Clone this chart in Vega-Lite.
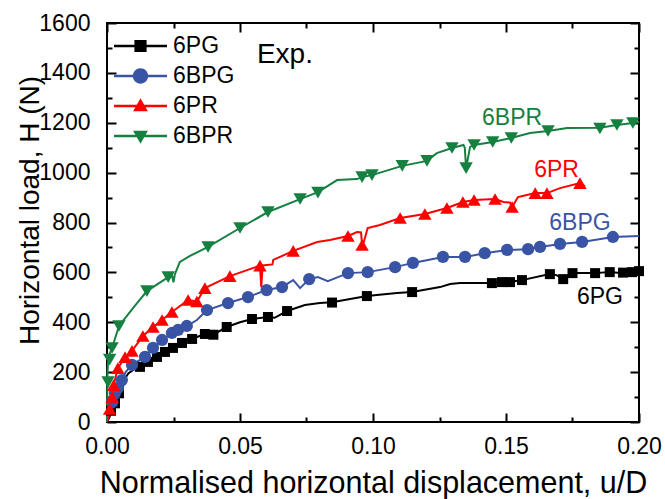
{
  "$schema": "https://vega.github.io/schema/vega-lite/v6.json",
  "width": 532,
  "height": 399,
  "autosize": {"type": "none"},
  "padding": {"left": 107, "top": 23, "right": 26, "bottom": 77},
  "background": "white",
  "config": {
    "font": "Liberation Sans",
    "view": {"stroke": "black", "strokeWidth": 2},
    "axis": {"grid": false}
  },
  "datasets": {
    "lines": [
      {"s":"6PG","u":0,"H":0},{"s":"6PG","u":0.001,"H":20},{"s":"6PG","u":0.0015,"H":45},{"s":"6PG","u":0.0023,"H":60},{"s":"6PG","u":0.003,"H":75},{"s":"6PG","u":0.0034,"H":88},{"s":"6PG","u":0.004,"H":100},{"s":"6PG","u":0.0045,"H":120},{"s":"6PG","u":0.006,"H":140},{"s":"6PG","u":0.0065,"H":170},{"s":"6PG","u":0.008,"H":195},{"s":"6PG","u":0.01,"H":210},{"s":"6PG","u":0.0124,"H":221},{"s":"6PG","u":0.0154,"H":241},{"s":"6PG","u":0.0188,"H":261},{"s":"6PG","u":0.0218,"H":281},{"s":"6PG","u":0.0248,"H":297},{"s":"6PG","u":0.0282,"H":317},{"s":"6PG","u":0.0312,"H":330},{"s":"6PG","u":0.0338,"H":341},{"s":"6PG","u":0.0368,"H":353},{"s":"6PG","u":0.04,"H":350},{"s":"6PG","u":0.045,"H":381},{"s":"6PG","u":0.05,"H":400},{"s":"6PG","u":0.0545,"H":413},{"s":"6PG","u":0.0605,"H":421},{"s":"6PG","u":0.063,"H":418},{"s":"6PG","u":0.0677,"H":445},{"s":"6PG","u":0.0744,"H":469},{"s":"6PG","u":0.08,"H":477},{"s":"6PG","u":0.0846,"H":480},{"s":"6PG","u":0.0977,"H":505},{"s":"6PG","u":0.109,"H":517},{"s":"6PG","u":0.1147,"H":521},{"s":"6PG","u":0.1252,"H":541},{"s":"6PG","u":0.129,"H":553},{"s":"6PG","u":0.1327,"H":557},{"s":"6PG","u":0.1447,"H":557},{"s":"6PG","u":0.1485,"H":561},{"s":"6PG","u":0.1515,"H":561},{"s":"6PG","u":0.156,"H":569},{"s":"6PG","u":0.1665,"H":593},{"s":"6PG","u":0.169,"H":589},{"s":"6PG","u":0.1715,"H":573},{"s":"6PG","u":0.175,"H":597},{"s":"6PG","u":0.1835,"H":597},{"s":"6PG","u":0.189,"H":601},{"s":"6PG","u":0.194,"H":597},{"s":"6PG","u":0.1974,"H":601},{"s":"6PG","u":0.2,"H":605},
      {"s":"6BPG","u":0,"H":0},{"s":"6BPG","u":0.001,"H":40},{"s":"6BPG","u":0.002,"H":80},{"s":"6BPG","u":0.003,"H":116},{"s":"6BPG","u":0.0041,"H":136},{"s":"6BPG","u":0.0056,"H":168},{"s":"6BPG","u":0.007,"H":200},{"s":"6BPG","u":0.0094,"H":229},{"s":"6BPG","u":0.0143,"H":261},{"s":"6BPG","u":0.0173,"H":297},{"s":"6BPG","u":0.0207,"H":329},{"s":"6BPG","u":0.0244,"H":357},{"s":"6BPG","u":0.0267,"H":369},{"s":"6BPG","u":0.03,"H":385},{"s":"6BPG","u":0.0338,"H":409},{"s":"6BPG","u":0.0376,"H":449},{"s":"6BPG","u":0.0455,"H":477},{"s":"6BPG","u":0.053,"H":501},{"s":"6BPG","u":0.06,"H":529},{"s":"6BPG","u":0.0658,"H":541},{"s":"6BPG","u":0.07,"H":569},{"s":"6BPG","u":0.0726,"H":537},{"s":"6BPG","u":0.076,"H":573},{"s":"6BPG","u":0.0793,"H":581},{"s":"6BPG","u":0.083,"H":565},{"s":"6BPG","u":0.0906,"H":597},{"s":"6BPG","u":0.098,"H":601},{"s":"6BPG","u":0.1083,"H":621},{"s":"6BPG","u":0.115,"H":638},{"s":"6BPG","u":0.1263,"H":662},{"s":"6BPG","u":0.1346,"H":662},{"s":"6BPG","u":0.142,"H":677},{"s":"6BPG","u":0.1504,"H":690},{"s":"6BPG","u":0.1583,"H":693},{"s":"6BPG","u":0.1628,"H":702},{"s":"6BPG","u":0.1703,"H":714},{"s":"6BPG","u":0.1786,"H":722},{"s":"6BPG","u":0.1902,"H":742},{"s":"6BPG","u":0.2,"H":746},
      {"s":"6PR","u":0,"H":0},{"s":"6PR","u":0.0005,"H":20},{"s":"6PR","u":0.001,"H":52},{"s":"6PR","u":0.0019,"H":100},{"s":"6PR","u":0.0025,"H":148},{"s":"6PR","u":0.0041,"H":216},{"s":"6PR","u":0.0068,"H":260},{"s":"6PR","u":0.0094,"H":285},{"s":"6PR","u":0.0135,"H":345},{"s":"6PR","u":0.0173,"H":381},{"s":"6PR","u":0.0207,"H":409},{"s":"6PR","u":0.0244,"H":441},{"s":"6PR","u":0.0305,"H":489},{"s":"6PR","u":0.0338,"H":483},{"s":"6PR","u":0.0368,"H":537},{"s":"6PR","u":0.0462,"H":585},{"s":"6PR","u":0.0575,"H":627},{"s":"6PR","u":0.058,"H":541},{"s":"6PR","u":0.0585,"H":628},{"s":"6PR","u":0.0622,"H":632},{"s":"6PR","u":0.0625,"H":650},{"s":"6PR","u":0.07,"H":686},{"s":"6PR","u":0.079,"H":722},{"s":"6PR","u":0.0838,"H":730},{"s":"6PR","u":0.0906,"H":746},{"s":"6PR","u":0.094,"H":762},{"s":"6PR","u":0.0955,"H":760},{"s":"6PR","u":0.0959,"H":710},{"s":"6PR","u":0.0965,"H":720},{"s":"6PR","u":0.098,"H":778},{"s":"6PR","u":0.1026,"H":790},{"s":"6PR","u":0.1102,"H":818},{"s":"6PR","u":0.1195,"H":834},{"s":"6PR","u":0.1278,"H":858},{"s":"6PR","u":0.1338,"H":882},{"s":"6PR","u":0.138,"H":890},{"s":"6PR","u":0.1459,"H":894},{"s":"6PR","u":0.149,"H":882},{"s":"6PR","u":0.1515,"H":880},{"s":"6PR","u":0.1523,"H":862},{"s":"6PR","u":0.1545,"H":902},{"s":"6PR","u":0.161,"H":918},{"s":"6PR","u":0.1654,"H":918},{"s":"6PR","u":0.1703,"H":938},{"s":"6PR","u":0.1778,"H":958},{"s":"6PR","u":0.1797,"H":945},
      {"s":"6BPR","u":0,"H":0},{"s":"6BPR","u":0.0002,"H":200},{"s":"6BPR","u":0.0005,"H":260},{"s":"6BPR","u":0.0019,"H":297},{"s":"6BPR","u":0.0045,"H":385},{"s":"6BPR","u":0.01,"H":460},{"s":"6BPR","u":0.015,"H":525},{"s":"6BPR","u":0.023,"H":581},{"s":"6BPR","u":0.0245,"H":585},{"s":"6BPR","u":0.025,"H":560},{"s":"6BPR","u":0.0255,"H":592},{"s":"6BPR","u":0.0274,"H":642},{"s":"6BPR","u":0.0312,"H":666},{"s":"6BPR","u":0.038,"H":702},{"s":"6BPR","u":0.05,"H":778},{"s":"6BPR","u":0.0605,"H":842},{"s":"6BPR","u":0.0726,"H":894},{"s":"6BPR","u":0.0793,"H":922},{"s":"6BPR","u":0.0865,"H":970},{"s":"6BPR","u":0.094,"H":974},{"s":"6BPR","u":0.0959,"H":982},{"s":"6BPR","u":0.0996,"H":990},{"s":"6BPR","u":0.111,"H":1027},{"s":"6BPR","u":0.1203,"H":1047},{"s":"6BPR","u":0.124,"H":1078},{"s":"6BPR","u":0.1297,"H":1099},{"s":"6BPR","u":0.134,"H":1111},{"s":"6BPR","u":0.1345,"H":1100},{"s":"6BPR","u":0.135,"H":1018},{"s":"6BPR","u":0.1365,"H":1103},{"s":"6BPR","u":0.138,"H":1111},{"s":"6BPR","u":0.145,"H":1123},{"s":"6BPR","u":0.152,"H":1139},{"s":"6BPR","u":0.159,"H":1159},{"s":"6BPR","u":0.1658,"H":1167},{"s":"6BPR","u":0.173,"H":1179},{"s":"6BPR","u":0.1853,"H":1180},{"s":"6BPR","u":0.1917,"H":1191},{"s":"6BPR","u":0.1977,"H":1199},{"s":"6BPR","u":0.2,"H":1203}
    ],
    "markers": [
      {"s":"6PG","u":0.0015,"H":45},{"s":"6PG","u":0.003,"H":75},{"s":"6PG","u":0.0045,"H":115},{"s":"6PG","u":0.0124,"H":221},{"s":"6PG","u":0.0154,"H":241},{"s":"6PG","u":0.0188,"H":261},{"s":"6PG","u":0.0218,"H":281},{"s":"6PG","u":0.0248,"H":297},{"s":"6PG","u":0.0282,"H":317},{"s":"6PG","u":0.032,"H":333},{"s":"6PG","u":0.0368,"H":353},{"s":"6PG","u":0.04,"H":350},{"s":"6PG","u":0.045,"H":381},{"s":"6PG","u":0.0545,"H":413},{"s":"6PG","u":0.0605,"H":421},{"s":"6PG","u":0.0677,"H":445},{"s":"6PG","u":0.0846,"H":479},{"s":"6PG","u":0.0977,"H":505},{"s":"6PG","u":0.1147,"H":521},{"s":"6PG","u":0.1447,"H":557},{"s":"6PG","u":0.1485,"H":561},{"s":"6PG","u":0.1515,"H":561},{"s":"6PG","u":0.156,"H":569},{"s":"6PG","u":0.1665,"H":593},{"s":"6PG","u":0.1715,"H":573},{"s":"6PG","u":0.175,"H":597},{"s":"6PG","u":0.1835,"H":597},{"s":"6PG","u":0.189,"H":601},{"s":"6PG","u":0.194,"H":599},{"s":"6PG","u":0.1974,"H":601},{"s":"6PG","u":0.2,"H":605},
      {"s":"6BPG","u":0.002,"H":80},{"s":"6BPG","u":0.003,"H":116},{"s":"6BPG","u":0.0041,"H":136},{"s":"6BPG","u":0.0056,"H":168},{"s":"6BPG","u":0.0094,"H":229},{"s":"6BPG","u":0.0143,"H":261},{"s":"6BPG","u":0.0173,"H":297},{"s":"6BPG","u":0.0207,"H":329},{"s":"6BPG","u":0.0244,"H":357},{"s":"6BPG","u":0.0267,"H":369},{"s":"6BPG","u":0.03,"H":385},{"s":"6BPG","u":0.0376,"H":449},{"s":"6BPG","u":0.0455,"H":477},{"s":"6BPG","u":0.053,"H":501},{"s":"6BPG","u":0.06,"H":529},{"s":"6BPG","u":0.0658,"H":541},{"s":"6BPG","u":0.076,"H":573},{"s":"6BPG","u":0.0906,"H":597},{"s":"6BPG","u":0.098,"H":601},{"s":"6BPG","u":0.1083,"H":621},{"s":"6BPG","u":0.115,"H":638},{"s":"6BPG","u":0.1263,"H":662},{"s":"6BPG","u":0.1346,"H":662},{"s":"6BPG","u":0.142,"H":677},{"s":"6BPG","u":0.1504,"H":690},{"s":"6BPG","u":0.1583,"H":693},{"s":"6BPG","u":0.1628,"H":702},{"s":"6BPG","u":0.1703,"H":714},{"s":"6BPG","u":0.1786,"H":722},{"s":"6BPG","u":0.1902,"H":742},
      {"s":"6PR","u":0.001,"H":52},{"s":"6PR","u":0.0019,"H":100},{"s":"6PR","u":0.0025,"H":148},{"s":"6PR","u":0.0041,"H":216},{"s":"6PR","u":0.0068,"H":260},{"s":"6PR","u":0.0094,"H":285},{"s":"6PR","u":0.0135,"H":345},{"s":"6PR","u":0.0173,"H":381},{"s":"6PR","u":0.0207,"H":409},{"s":"6PR","u":0.0244,"H":441},{"s":"6PR","u":0.0305,"H":489},{"s":"6PR","u":0.0338,"H":483},{"s":"6PR","u":0.0368,"H":537},{"s":"6PR","u":0.0462,"H":585},{"s":"6PR","u":0.0575,"H":627},{"s":"6PR","u":0.07,"H":686},{"s":"6PR","u":0.0906,"H":746},{"s":"6PR","u":0.0959,"H":710},{"s":"6PR","u":0.1102,"H":818},{"s":"6PR","u":0.1195,"H":834},{"s":"6PR","u":0.1278,"H":858},{"s":"6PR","u":0.1338,"H":882},{"s":"6PR","u":0.138,"H":890},{"s":"6PR","u":0.1459,"H":894},{"s":"6PR","u":0.1523,"H":862},{"s":"6PR","u":0.161,"H":918},{"s":"6PR","u":0.1654,"H":918},{"s":"6PR","u":0.1778,"H":958},
      {"s":"6BPR","u":0.0004,"H":160},{"s":"6BPR","u":0.001,"H":250},{"s":"6BPR","u":0.0019,"H":297},{"s":"6BPR","u":0.0045,"H":385},{"s":"6BPR","u":0.015,"H":525},{"s":"6BPR","u":0.023,"H":581},{"s":"6BPR","u":0.038,"H":702},{"s":"6BPR","u":0.05,"H":778},{"s":"6BPR","u":0.0605,"H":842},{"s":"6BPR","u":0.0726,"H":894},{"s":"6BPR","u":0.0793,"H":920},{"s":"6BPR","u":0.0959,"H":982},{"s":"6BPR","u":0.0996,"H":990},{"s":"6BPR","u":0.111,"H":1027},{"s":"6BPR","u":0.1203,"H":1047},{"s":"6BPR","u":0.1297,"H":1099},{"s":"6BPR","u":0.135,"H":1018},{"s":"6BPR","u":0.138,"H":1111},{"s":"6BPR","u":0.145,"H":1123},{"s":"6BPR","u":0.152,"H":1139},{"s":"6BPR","u":0.1658,"H":1167},{"s":"6BPR","u":0.1853,"H":1177},{"s":"6BPR","u":0.1917,"H":1191},{"s":"6BPR","u":0.1977,"H":1199}
    ],
    "labels": [
      {"s":"6BPR","u":0.1523,"H":1219},
      {"s":"6PR","u":0.169,"H":1010},
      {"s":"6BPG","u":0.1778,"H":798},
      {"s":"6PG","u":0.1853,"H":501}
    ],
    "notes": [{"t":"Exp.","u":0.0669,"H":1472}]
  },
  "encoding": {
    "x": {"field": "u", "type": "quantitative", "scale": {"domain": [0, 0.2], "nice": false, "zero": false}, "axis": null},
    "y": {"field": "H", "type": "quantitative", "scale": {"domain": [0, 1600], "nice": false, "zero": false}, "axis": null}
  },
  "resolve": {"axis": {"x": "independent", "y": "independent"}},
  "layer": [
    {
      "data": {"name": "lines"},
      "mark": {"type": "line", "strokeWidth": 2},
      "encoding": {
        "x": {"field": "u", "type": "quantitative", "scale": {"domain": [0, 0.2], "nice": false, "zero": false},
          "axis": {"orient": "bottom", "values": [0,0.025,0.05,0.075,0.1,0.125,0.15,0.175,0.2],
            "labelExpr": "round(datum.value*40)%2==0 ? format(datum.value,'.2f') : ''",
            "labelFlush": false, "labelOverlap": false, "labelFontSize": 23, "labelColor": "black", "labelPadding": 22,
            "tickSize": {"condition": {"test": "round(datum.value*40)%2==0", "value": -9}, "value": -5},
            "tickWidth": 2, "tickColor": "black", "domain": false,
            "title": "Normalised horizontal displacement, u/D", "titleFontSize": 30.5, "titleFontWeight": "normal", "titleColor": "black", "titlePadding": 6}},
        "y": {"field": "H", "type": "quantitative", "scale": {"domain": [0, 1600], "nice": false, "zero": false},
          "axis": {"orient": "left", "values": [0,100,200,300,400,500,600,700,800,900,1000,1100,1200,1300,1400,1500,1600],
            "labelExpr": "datum.value%200==0 ? format(datum.value,'d') : ''",
            "labelFlush": false, "labelOverlap": false, "labelFontSize": 23, "labelColor": "black", "labelPadding": 26,
            "tickSize": {"condition": {"test": "datum.value%200==0", "value": -9}, "value": -5},
            "tickWidth": 2, "tickColor": "black", "domain": false,
            "title": "Horizontal load, H (N)", "titleFontSize": 28, "titleFontWeight": "normal", "titleColor": "black", "titlePadding": -6, "titleY": 187}},
        "stroke": {"field": "s", "type": "nominal", "scale": {"domain": ["6BPR","6PR","6BPG","6PG"], "range": ["#168040","#ff0000","#3954a4","#000000"]}, "legend": null},
        "order": {"value": null}
      }
    },
    {
      "data": {"name": "markers"},
      "transform": [{"filter": "datum.s == '6PG'"}],
      "mark": {"type": "point", "shape": "square", "filled": true, "size": 100, "opacity": 1, "strokeWidth": 0},
      "encoding": {"fill": {"field": "s", "type": "nominal", "scale": {"domain": ["6BPR","6PR","6BPG","6PG"], "range": ["#168040","#ff0000","#3954a4","#000000"]}, "legend": null}}
    },
    {
      "data": {"name": "markers"},
      "transform": [{"filter": "datum.s == '6BPG'"}],
      "mark": {"type": "point", "shape": "circle", "filled": true, "size": 150, "opacity": 1, "strokeWidth": 0},
      "encoding": {"fill": {"field": "s", "type": "nominal", "scale": {"domain": ["6BPR","6PR","6BPG","6PG"], "range": ["#168040","#ff0000","#3954a4","#000000"]}, "legend": null}}
    },
    {
      "data": {"name": "markers"},
      "transform": [{"filter": "datum.s == '6PR'"}],
      "mark": {"type": "point", "shape": "triangle-up", "filled": true, "size": 180, "opacity": 1, "strokeWidth": 0},
      "encoding": {"fill": {"field": "s", "type": "nominal", "scale": {"domain": ["6BPR","6PR","6BPG","6PG"], "range": ["#168040","#ff0000","#3954a4","#000000"]}, "legend": null}}
    },
    {
      "data": {"name": "markers"},
      "transform": [{"filter": "datum.s == '6BPR'"}],
      "mark": {"type": "point", "shape": "triangle-down", "filled": true, "size": 180, "opacity": 1, "strokeWidth": 0},
      "encoding": {"fill": {"field": "s", "type": "nominal", "scale": {"domain": ["6BPR","6PR","6BPG","6PG"], "range": ["#168040","#ff0000","#3954a4","#000000"]}, "legend": null}}
    },
    {
      "data": {"name": "markers"},
      "transform": [{"filter": "false"}],
      "mark": {"type": "point", "filled": true, "opacity": 1},
      "encoding": {
        "color": {"field": "s", "type": "nominal",
          "scale": {"domain": ["6PG","6BPG","6PR","6BPR"], "range": ["#000000","#3954a4","#ff0000","#168040"]},
          "legend": {"orient": "none", "legendX": 7, "legendY": 12, "title": null, "padding": 0, "symbolSize": 2809, "symbolStrokeWidth": 0, "labelFontSize": 23, "labelColor": "black", "labelOffset": 6, "rowPadding": 7, "clipHeight": 22}},
        "shape": {"field": "s", "type": "nominal",
          "scale": {"domain": ["6PG","6BPG","6PR","6BPR"], "range": [
            "M-1,-0.045H1V0.045H-1Z M-0.23,-0.23H0.23V0.23H-0.23Z",
            "M-1,-0.045H1V0.045H-1Z M-0.29,0A0.29,0.29 0 1,1 0.29,0A0.29,0.29 0 1,1 -0.29,0Z",
            "M-1,-0.045H1V0.045H-1Z M0,-0.29L0.28,0.2L-0.28,0.2Z",
            "M-1,-0.045H1V0.045H-1Z M-0.28,-0.2L0.28,-0.2L0,0.29Z"]},
          "legend": {"orient": "none", "legendX": 7, "legendY": 12, "title": null, "padding": 0, "symbolSize": 2809, "symbolStrokeWidth": 0, "labelFontSize": 23, "labelColor": "black", "labelOffset": 6, "rowPadding": 7, "clipHeight": 22}}
      }
    },
    {
      "data": {"name": "labels"},
      "mark": {"type": "text", "fontSize": 23, "align": "center", "baseline": "middle"},
      "encoding": {
        "text": {"field": "s", "type": "nominal"},
        "fill": {"field": "s", "type": "nominal", "scale": {"domain": ["6BPR","6PR","6BPG","6PG"], "range": ["#168040","#ff0000","#3954a4","#000000"]}, "legend": null}
      }
    },
    {
      "data": {"name": "notes"},
      "mark": {"type": "text", "fontSize": 28, "align": "center", "baseline": "middle", "color": "black"},
      "encoding": {
        "text": {"field": "t", "type": "nominal"},
        "x": {"field": "u", "type": "quantitative", "scale": {"domain": [0, 0.2], "nice": false, "zero": false},
          "axis": {"orient": "top", "values": [0,0.025,0.05,0.075,0.1,0.125,0.15,0.175,0.2], "labels": false, "title": null, "domain": false,
            "tickSize": {"condition": {"test": "round(datum.value*40)%2==0", "value": -9}, "value": -5}, "tickWidth": 2, "tickColor": "black"}},
        "y": {"field": "H", "type": "quantitative", "scale": {"domain": [0, 1600], "nice": false, "zero": false},
          "axis": {"orient": "right", "values": [0,100,200,300,400,500,600,700,800,900,1000,1100,1200,1300,1400,1500,1600], "labels": false, "title": null, "domain": false,
            "tickSize": {"condition": {"test": "datum.value%200==0", "value": -9}, "value": -5}, "tickWidth": 2, "tickColor": "black"}}
      }
    }
  ]
}
